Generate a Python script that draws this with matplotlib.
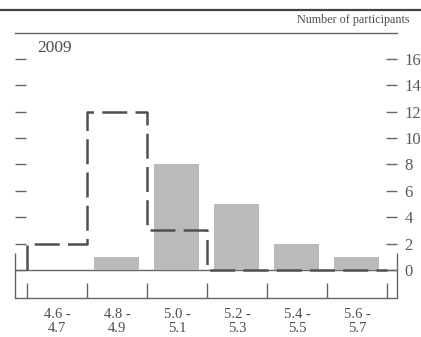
import matplotlib
matplotlib.use("Agg")
import matplotlib.pyplot as plt

plt.rcParams['font.family'] = ['Liberation Serif', 'DejaVu Serif']

bins = ["4.6 -\n4.7", "4.8 -\n4.9", "5.0 -\n5.1", "5.2 -\n5.3", "5.4 -\n5.5", "5.6 -\n5.7"]
current = [0, 1, 8, 5, 2, 1]
earlier = [2, 12, 3, 0, 0, 0]
yticks = [0, 2, 4, 6, 8, 10, 12, 14, 16]

ink = "#4d4d4d"
fig = plt.figure(figsize=(4.21, 3.37), dpi=100)
ax = fig.add_axes([15 / 421, 1 - 298 / 337, 382 / 421, 265 / 337])

x = list(range(len(bins)))
ax.bar(x, current, width=0.75, color="#bababa", zorder=2)

# earlier projection as dashed step outline
sx, sy = [-0.5], [0]
for i, v in enumerate(earlier):
    sx += [i - 0.5, i + 0.5]
    sy += [v, v]
sx.append(len(bins) - 0.5)
sy.append(0)
ax.plot(sx, sy, color="#505050", lw=1.8, ls=(0, (10, 3.3)), zorder=3,
        solid_capstyle="butt")

ax.set_xlim(-0.7, 5.667)
ax.set_ylim(-2.12, 17.95)

ax.axhline(0, color="#666666", lw=1.0, zorder=1)
for s in ["left", "right"]:
    ax.spines[s].set_visible(False)
for s in ["top", "bottom"]:
    ax.spines[s].set_color("#666666")
    ax.spines[s].set_linewidth(1.0)
ax.vlines([-0.7, 5.667], -2.12, 1.3, color="#666666", lw=1.0, clip_on=False)
ax.vlines([i - 0.5 for i in range(len(bins) + 1)], -2.12, -0.98,
          color="#666666", lw=1.0)

ax.set_xticks(x)
ax.set_xticklabels(bins, fontsize=10.5, color=ink, linespacing=1.15)
ax.tick_params(axis="x", length=0, pad=7)

ax.set_yticks(yticks)
ax.set_yticklabels([str(v) for v in yticks], fontsize=12, color="#5a5a5a")
ax.tick_params(axis="y", direction="in", length=8, width=1.0, color="#666666",
               left=True, right=True, labelleft=False, labelright=True, pad=5.5)

ax.text(-0.33, 16.8, "2009", fontsize=12.5, color=ink, ha="left", va="center")

fig.text(410 / 421, 1 - 20 / 337, "Number of participants", fontsize=8.7,
         color=ink, ha="right", va="center")
fig.add_artist(plt.Line2D([0, 1], [1 - 10 / 337] * 2, color="#444444", lw=1.6))

fig.savefig("out.png", dpi=100)
